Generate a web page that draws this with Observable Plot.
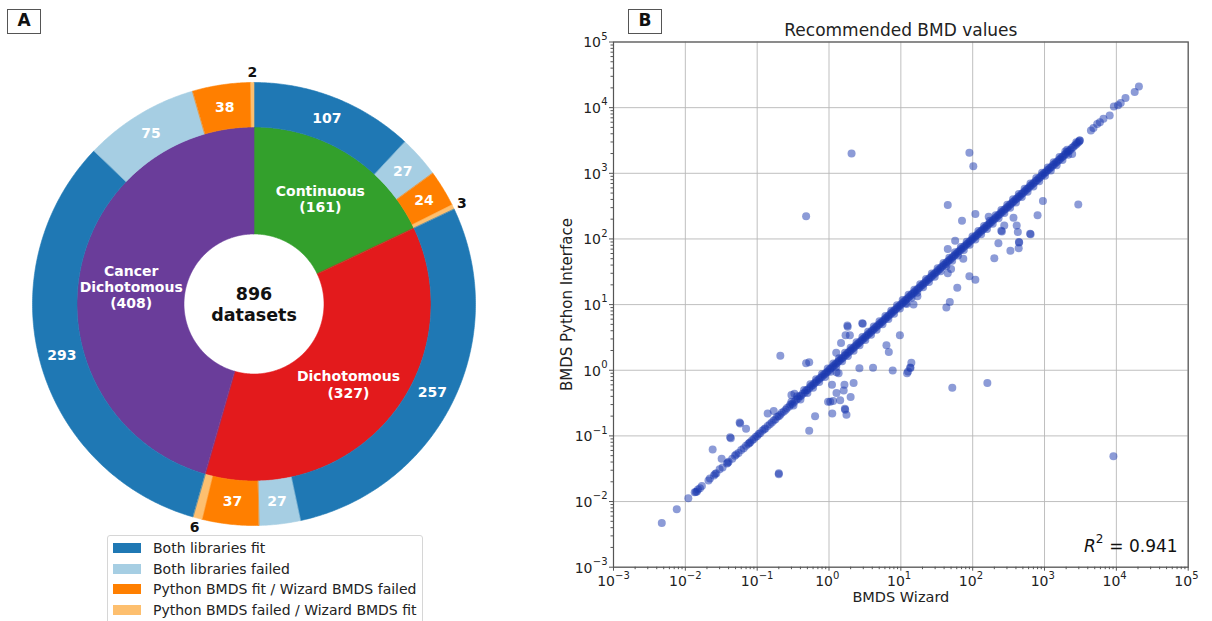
<!DOCTYPE html>
<html>
<head>
<meta charset="utf-8">
<script src="https://cdn.jsdelivr.net/npm/d3@7"></script>
<script src="https://cdn.jsdelivr.net/npm/@observablehq/plot@0.6"></script>
<style>
  body { margin: 0; background: #fff; font-family: "DejaVu Sans", sans-serif; }
  #wrap { position: relative; width: 1212px; height: 621px; overflow: hidden; background: #fff; }
  .tag { position: absolute; box-sizing: border-box; border: 1.5px solid #555; font-weight: bold; font-size: 17px; text-align: center; line-height: 21px; background: #fff; color: #111; }
  #pie { position: absolute; left: 0; top: 0; }
  #scatter { position: absolute; left: 540px; top: 0; }
  #legend { position: absolute; left: 107px; top: 535px; width: 316px; box-sizing: border-box; border: 1px solid #d6d6d6; border-radius: 3px; padding: 2px 0 4px 0; background: #fff; font-size: 14px; color: #222; }
  .row { display: flex; align-items: center; height: 20.6px; white-space: nowrap; }
  .sw { width: 28px; height: 10px; margin: 0 12px 0 5px; flex: none; }
</style>
</head>
<body>
<div id="wrap">
  <div id="pie"></div>
  <div id="scatter"></div>
  <div class="tag" style="left:7px;top:9px;width:34px;height:25px;">A</div>
  <div class="tag" style="left:628px;top:9px;width:34px;height:25px;">B</div>
  <div id="legend"></div>
</div>
<script>
// ---------- Panel A data ----------
const datasetTotal = 896;
const innerLabels = ["Continuous", "Dichotomous", "Cancer\nDichotomous"];
const innerCounts = [161, 327, 408];
const innerColors = ["#33a02c", "#e31a1c", "#6a3d9a"];
const outcomeLabels = [
  "Both libraries fit",
  "Both libraries failed",
  "Python BMDS fit / Wizard BMDS failed",
  "Python BMDS failed / Wizard BMDS fit"
];
const outcomeColors = ["#1f78b4", "#a6cee3", "#ff7f00", "#fdbf6f"];
const continuousOutcomes = [107, 27, 24, 3];
const dichotomousOutcomes = [257, 27, 37, 6];
const cancerOutcomes = [293, 75, 38, 2];

// ---------- Panel B data (BMDS Wizard, BMDS Python Interface) ----------
const decadeTicks = [1e-3, 1e-2, 1e-1, 1e0, 1e1, 1e2, 1e3, 1e4, 1e5];
const decadeBase = "10";
const decadeExponents = ["−3", "−2", "−1", "0", "1", "2", "3", "4", "5"];

const agreeingPairs = [
  [0.0047,0.0047],[0.0076,0.0076],[0.011,0.0112],[0.0135,0.0138],[0.014,0.014],[0.0145,0.0142],[0.015,0.0152],
  [0.016,0.016],[0.017,0.0172],[0.021,0.021],[0.022,0.0225],[0.025,0.025],[0.026,0.0262],[0.027,0.027],
  [0.03,0.031],[0.033,0.033],[0.038,0.038],[0.039,0.039],[0.04,0.0405],[0.045,0.045],[0.049,0.05],
  [0.051,0.052],[0.055,0.055],[0.06,0.061],[0.065,0.065],[0.07,0.071],[0.075,0.075],[0.078,0.078],
  [0.08,0.08],[0.085,0.086],[0.09,0.09],[0.095,0.096],
  [0.1,0.1],[0.105,0.107],[0.11,0.11],[0.118,0.12],[0.125,0.126],[0.13,0.13],[0.14,0.142],[0.15,0.15],
  [0.16,0.16],[0.17,0.172],[0.18,0.18],[0.19,0.195],[0.2,0.2],[0.21,0.21],[0.22,0.225],[0.235,0.235],
  [0.25,0.25],[0.26,0.265],[0.28,0.28],[0.29,0.3],[0.31,0.31],[0.33,0.33],[0.35,0.355],[0.37,0.37],
  [0.39,0.4],[0.41,0.41],[0.43,0.44],[0.46,0.46],[0.48,0.49],[0.5,0.5],[0.53,0.53],[0.56,0.57],
  [0.59,0.59],[0.62,0.63],[0.65,0.65],[0.68,0.69],[0.72,0.72],[0.75,0.76],[0.79,0.79],[0.83,0.84],
  [0.87,0.87],[0.91,0.92],[0.95,0.95],[1.0,1.0],[1.04,1.05],[1.09,1.09],[1.14,1.15],[1.2,1.2],
  [1.25,1.26],[1.31,1.31],[1.37,1.38],[1.44,1.44],[1.5,1.51],[1.57,1.57],[1.65,1.66],[1.72,1.72],
  [1.8,1.82],[1.89,1.89],[1.98,1.98],[2.07,2.09],[2.17,2.17],[2.27,2.29],[2.38,2.38],[2.49,2.51],
  [2.6,2.6],[2.73,2.75],[2.86,2.86],[3.0,3.03],[3.14,3.14],[3.29,3.32],[3.44,3.44],[3.6,3.63],
  [3.77,3.77],[3.95,3.98],[4.14,4.14],[4.33,4.37],[4.54,4.54],[4.75,4.79],[4.98,4.98],[5.2,5.25],
  [5.45,5.45],[5.7,5.75],[6.0,6.0],[6.25,6.3],[6.55,6.55],[6.85,6.9],[7.2,7.2],[7.5,7.56],
  [7.85,7.85],[8.2,8.27],[8.6,8.6],[9.0,9.08],[9.45,9.45],[9.9,9.95],[10.4,10.4],[10.9,11.0],
  [11.4,11.4],[11.9,12.0],[12.5,12.5],[13.1,13.2],[13.7,13.7],[14.3,14.5],[15.0,15.0],[15.7,15.9],
  [16.5,16.5],[17.3,17.4],[18.1,18.1],[19.0,19.2],[19.9,19.9],[20.8,21.0],[21.8,21.8],[22.8,23.1],
  [23.9,23.9],[25.0,25.3],[26.2,26.2],[27.4,27.7],[28.7,28.7],[30.1,30.4],[31.5,31.5],[33.0,33.4],
  [34.6,34.6],[36.2,36.6],[37.9,37.9],[39.7,40.1],[41.6,41.6],[43.6,44.0],[45.6,45.6],[47.8,48.3],
  [50.0,50.0],[52.4,53.0],[54.9,54.9],[57.5,58.1],[60.2,60.2],[63.1,63.8],[66.1,66.1],[69.2,70.0],
  [72.4,72.4],[75.9,76.7],[79.4,79.4],[83.2,84.1],[87.1,87.1],[91.2,92.2],[95.5,95.5],[100,101],
  [105,105],[110,111],[115,115],[120,121],[126,126],[132,133],[138,138],[145,146],[151,151],[158,160],
  [166,166],[174,175],[182,182],[191,193],[200,200],[209,211],[219,219],[229,232],[240,240],[251,254],
  [263,263],[275,278],[288,288],[302,305],[316,316],[331,335],[347,347],[363,367],[380,380],[398,402],
  [417,417],[437,441],[457,457],[479,484],[501,501],[525,530],[550,550],[575,581],[603,603],[631,638],
  [661,661],[692,700],[724,724],[759,767],[794,794],[832,841],[871,871],[912,922],[955,955],[1000,1010],
  [1047,1047],[1096,1110],[1148,1148],[1202,1215],[1259,1259],[1318,1333],[1380,1380],[1445,1460],
  [1514,1514],[1585,1600],[1660,1660],[1738,1755],[1820,1820],[1905,1925],[1995,1995],[2089,2110],
  [2188,2188],[2291,2291],[2400,2420],[2512,2512],[2630,2650],[2754,2754],[2884,2900],[3020,3020],
  [3100,3150],[2065,2290],[2425,1970],[2770,2970],[3080,3150],
  [4425,4480],[4800,4900],[5410,5660],[5900,6000],[6610,6760],[8070,7590],[9230,10400],[10550,10900],
  [11500,11800],[13400,14000],[18000,17300],[20600,21000]
];

// extra points that thicken the dense core of the agreement band
const bandPairs = [
  [0.3,0.33],[0.32,0.29],[0.36,0.4],[0.4,0.36],[0.45,0.5],[0.5,0.45],[0.55,0.61],[0.6,0.54],
  [0.66,0.73],[0.73,0.66],[0.8,0.88],[0.88,0.79],[0.96,1.06],[1.05,0.95],[1.15,1.27],[1.26,1.13],
  [1.38,1.52],[1.52,1.37],[1.67,1.84],[1.83,1.65],[2.0,2.2],[2.2,1.98],[2.42,2.66],[2.66,2.4],
  [2.92,3.21],[3.2,2.88],[3.5,3.85],[3.85,3.47],[4.2,4.62],[4.6,4.14],[5.05,5.56],[5.55,5.0],
  [6.1,6.71],[6.7,6.03],[7.35,8.09],[8.05,7.25],[8.85,9.74],[9.7,8.73],[10.6,11.7],[11.7,10.5],
  [12.8,14.1],[14.1,12.7],[15.4,16.9],[16.9,15.2],[18.6,20.5],[20.4,18.4],[22.4,24.6],[24.6,22.1],
  [27,29.7],[29.6,26.6],[32.5,35.8],[35.7,32.1],[39.2,43.1],[43,38.7],[47.2,51.9],[51.8,46.6],
  [56.9,62.6],[62.4,56.2],[68.5,75.4],[75.2,67.7],[82.5,90.8],[90.6,81.5],[99.4,109],[109,98],
  [120,132],[131,118],[144,158],[158,142],[173,190],[190,171],[209,230],[229,206],[251,276],
  [276,248],[303,333],[332,299],[365,402],[400,360],[439,483],[482,434],[529,582],[581,523],
  [637,701],[700,630],[768,845],[843,759],[925,1018],[1015,914],[1114,1225],[1223,1101],
  [1342,1476],[1473,1326],[1617,1779],[1775,1598],[1948,2143],[2138,1924]
];

const divergingPairs = [
  [0.48,221],[2.06,2000],[90,2050],[102,1280],[45,330],[71,190],[109,240],[57,94],[45,70],[74,50],
  [90,27],[109,24],[61,18],[48,11],[43,9],[950,380],[800,230],[2950,335],[370,210],[275,160],
  [410,160],[250,133],[255,130],[425,128],[630,120],[640,118],[228,86],[444,88],[440,90],[437,72],
  [335,66],[200,51],[167,218],[17,13.4],[15,10],[12,10.2],[45,30],[50,35],
  [0.21,1.67],[0.48,1.28],[0.53,1.32],[1.26,1.84],[1.47,2.6],[1.8,4.8],[1.82,4.6],[2.9,5.2],[2.95,5.1],
  [1.7,3.4],[1.95,3.4],[2.65,1.07],[4.1,1.09],[7.7,0.99],[6.3,2.4],[6.8,1.9],[9.7,3.4],[12.2,0.9],
  [12.6,0.96],[13.5,1.1],[13.6,1.08],[14,1.3],[52,0.54],[160,0.64],[9100,0.049],[1.27,0.93],[1.36,0.9],
  [1.1,0.6],[1.64,0.6],[2.2,0.64],[1.27,0.45],[1.6,0.49],[2.0,0.39],[0.97,0.33],[1.04,0.33],[1.14,0.34],
  [1.43,0.35],[1.66,0.26],[1.68,0.25],[1.75,0.21],[1.11,0.22],[0.64,0.2],[0.53,0.12],[0.2,0.026],
  [0.2,0.027],[0.14,0.22],[0.17,0.24],[0.3,0.42],[0.33,0.44],[0.057,0.16],[0.058,0.155],[0.042,0.095],
  [0.043,0.092],[0.07,0.128],[0.024,0.062],[0.032,0.045]
];
const rSquaredValue = "= 0.941";

// ---------- Panel A: nested donut ----------
const R_HOLE = 70, R_MID = 177, R_OUT = 221.5;
const pieLayout = d3.pie().sort(null).startAngle(0).endAngle(2 * Math.PI);
const innerArcs = pieLayout(innerCounts);
const outerCounts = [...continuousOutcomes, ...dichotomousOutcomes, ...cancerOutcomes];
const outerArcs = pieLayout(outerCounts);

function sector(id, a0, a1, r0, r1, color) {
  const n = Math.max(2, Math.ceil((a1 - a0) / (Math.PI / 360)));
  const pts = [];
  for (let i = 0; i <= n; i++) { const a = a0 + (a1 - a0) * i / n; pts.push({id, color, x: r1 * Math.sin(a), y: r1 * Math.cos(a)}); }
  for (let i = n; i >= 0; i--) { const a = a0 + (a1 - a0) * i / n; pts.push({id, color, x: r0 * Math.sin(a), y: r0 * Math.cos(a)}); }
  return pts;
}
const polys = [];
innerArcs.forEach((a, i) => polys.push(...sector("in" + i, a.startAngle, a.endAngle, R_HOLE, R_MID, innerColors[i])));
outerArcs.forEach((a, i) => polys.push(...sector("out" + i, a.startAngle, a.endAngle, R_MID, R_OUT, outcomeColors[i % 4])));

const mid = a => (a.startAngle + a.endAngle) / 2;
const innerText = innerArcs.map((a, i) => ({x: 124 * Math.sin(mid(a)), y: 124 * Math.cos(mid(a)), text: `${innerLabels[i]}\n(${innerCounts[i]})`}));
const outerBig = outerArcs.filter(a => a.value >= 10).map(a => ({x: 199 * Math.sin(mid(a)), y: 199 * Math.cos(mid(a)), text: String(a.value)}));
const outerSmall = outerArcs.filter(a => a.value < 10).map(a => ({x: 231 * Math.sin(mid(a)), y: 231 * Math.cos(mid(a)), text: String(a.value)}));

const CX = 253.5, CY = 303.5, PW = 506, PH = 560;
const pieChart = Plot.plot({
  width: PW, height: PH, margin: 0,
  x: {domain: [-CX, PW - CX], axis: null},
  y: {domain: [CY - PH, CY], axis: null},
  color: {type: "identity"},
  style: {fontFamily: "DejaVu Sans", background: "transparent", overflow: "visible"},
  marks: [
    Plot.line(polys, {x: "x", y: "y", z: "id", fill: "color", stroke: "color", strokeWidth: 0.6, curve: "linear-closed"}),
    Plot.text(innerText, {x: "x", y: "y", text: "text", fill: "white", fontWeight: "bold", fontSize: 14, lineHeight: 1.15}),
    Plot.text(outerBig, {x: "x", y: "y", text: "text", fill: "white", fontWeight: "bold", fontSize: 14}),
    Plot.text(outerSmall, {x: "x", y: "y", text: "text", fill: "#111", fontWeight: "bold", fontSize: 14}),
    Plot.text([`${datasetTotal}\ndatasets`], {x: 0, y: 0, fill: "#111", fontWeight: "bold", fontSize: 17.5, lineHeight: 1.2})
  ]
});
document.getElementById("pie").appendChild(pieChart);

// legend
const legend = document.getElementById("legend");
outcomeLabels.forEach((lab, i) => {
  const row = document.createElement("div");
  row.className = "row";
  row.innerHTML = `<span class="sw" style="background:${outcomeColors[i]}"></span><span>${lab}</span>`;
  legend.appendChild(row);
});

// ---------- Panel B: log-log scatter ----------
const minorTicks = [];
for (let k = -3; k < 5; k++) for (let m = 2; m < 10; m++) minorTicks.push(m * Math.pow(10, k));
const tickInfo = decadeTicks.map((v, i) => ({v, e: decadeExponents[i], neg: decadeExponents[i].startsWith("−")}));
const negTicks = tickInfo.filter(d => d.neg);
const posTicks = tickInfo.filter(d => !d.neg);
const dotStyle = {r: 4, fill: "#1a38b0", fillOpacity: 0.5, stroke: null};
const lab = {fill: "#222", lineAnchor: "middle"};

const scatter = Plot.plot({
  width: 672, height: 621,
  marginLeft: 73, marginRight: 24.3, marginTop: 41.5, marginBottom: 54.3,
  x: {type: "log", domain: [1e-3, 1e5]},
  y: {type: "log", domain: [1e-3, 1e5]},
  style: {fontFamily: "DejaVu Sans", fontSize: "14px", color: "#222", background: "transparent", overflow: "visible"},
  marks: [
    Plot.gridX(decadeTicks, {stroke: "#b8b8b8", strokeOpacity: 1, strokeWidth: 0.9}),
    Plot.gridY(decadeTicks, {stroke: "#b8b8b8", strokeOpacity: 1, strokeWidth: 0.9}),
    Plot.dot(agreeingPairs, {x: d => d[0], y: d => d[1], ...dotStyle}),
    Plot.dot(bandPairs, {x: d => d[0], y: d => d[1], ...dotStyle}),
    Plot.dot(divergingPairs, {x: d => d[0], y: d => d[1], ...dotStyle}),
    Plot.axisX(minorTicks, {tickSize: 2.5, tickFormat: () => "", label: null, stroke: "#555"}),
    Plot.axisY(minorTicks, {tickSize: 2.5, tickFormat: () => "", label: null, stroke: "#555"}),
    Plot.axisX(decadeTicks, {tickSize: 4, tickFormat: () => "", label: null, stroke: "#555"}),
    Plot.axisY(decadeTicks, {tickSize: 4, tickFormat: () => "", label: null, stroke: "#555"}),
    // x tick labels: "10" + superscript exponent
    Plot.text(negTicks, {x: "v", text: () => decadeBase, frameAnchor: "bottom", dy: 14.5, dx: 1.5, textAnchor: "end", fontSize: 14, ...lab}),
    Plot.text(negTicks, {x: "v", text: "e", frameAnchor: "bottom", dy: 8.5, dx: 1.5, textAnchor: "start", fontSize: 10, ...lab}),
    Plot.text(posTicks, {x: "v", text: () => decadeBase, frameAnchor: "bottom", dy: 14.5, dx: 4, textAnchor: "end", fontSize: 14, ...lab}),
    Plot.text(posTicks, {x: "v", text: "e", frameAnchor: "bottom", dy: 8.5, dx: 4, textAnchor: "start", fontSize: 10, ...lab}),
    // y tick labels
    Plot.text(negTicks, {y: "v", text: () => decadeBase, frameAnchor: "left", dx: -21, dy: 1, textAnchor: "end", fontSize: 14, ...lab}),
    Plot.text(negTicks, {y: "v", text: "e", frameAnchor: "left", dx: -6, dy: -5.5, textAnchor: "end", fontSize: 10, ...lab}),
    Plot.text(posTicks, {y: "v", text: () => decadeBase, frameAnchor: "left", dx: -12.5, dy: 1, textAnchor: "end", fontSize: 14, ...lab}),
    Plot.text(posTicks, {y: "v", text: "e", frameAnchor: "left", dx: -6, dy: -5.5, textAnchor: "end", fontSize: 10, ...lab}),
    Plot.frame({stroke: "#555", strokeWidth: 1.2}),
    Plot.text(["Recommended BMD values"], {frameAnchor: "top", dy: -11.5, fontSize: 17, textAnchor: "middle", ...lab}),
    Plot.text(["BMDS Wizard"], {frameAnchor: "bottom", dy: 30, fontSize: 14.5, textAnchor: "middle", ...lab}),
    Plot.text(["BMDS Python Interface"], {frameAnchor: "left", dx: -46, rotate: -90, fontSize: 15, textAnchor: "middle", ...lab}),
    Plot.text([rSquaredValue], {frameAnchor: "bottom-right", dx: -10.5, dy: -21, fontSize: 17, textAnchor: "end", lineAnchor: "middle", fill: "#111"}),
    Plot.text(["2"], {frameAnchor: "bottom-right", dx: -92.5, dy: -28, fontSize: 12, textAnchor: "start", lineAnchor: "middle", fill: "#111"}),
    Plot.text(["R"], {frameAnchor: "bottom-right", dx: -92.5, dy: -21, fontSize: 17, fontStyle: "italic", textAnchor: "end", lineAnchor: "middle", fill: "#111"})
  ]
});
document.getElementById("scatter").appendChild(scatter);
</script>
</body>
</html>
